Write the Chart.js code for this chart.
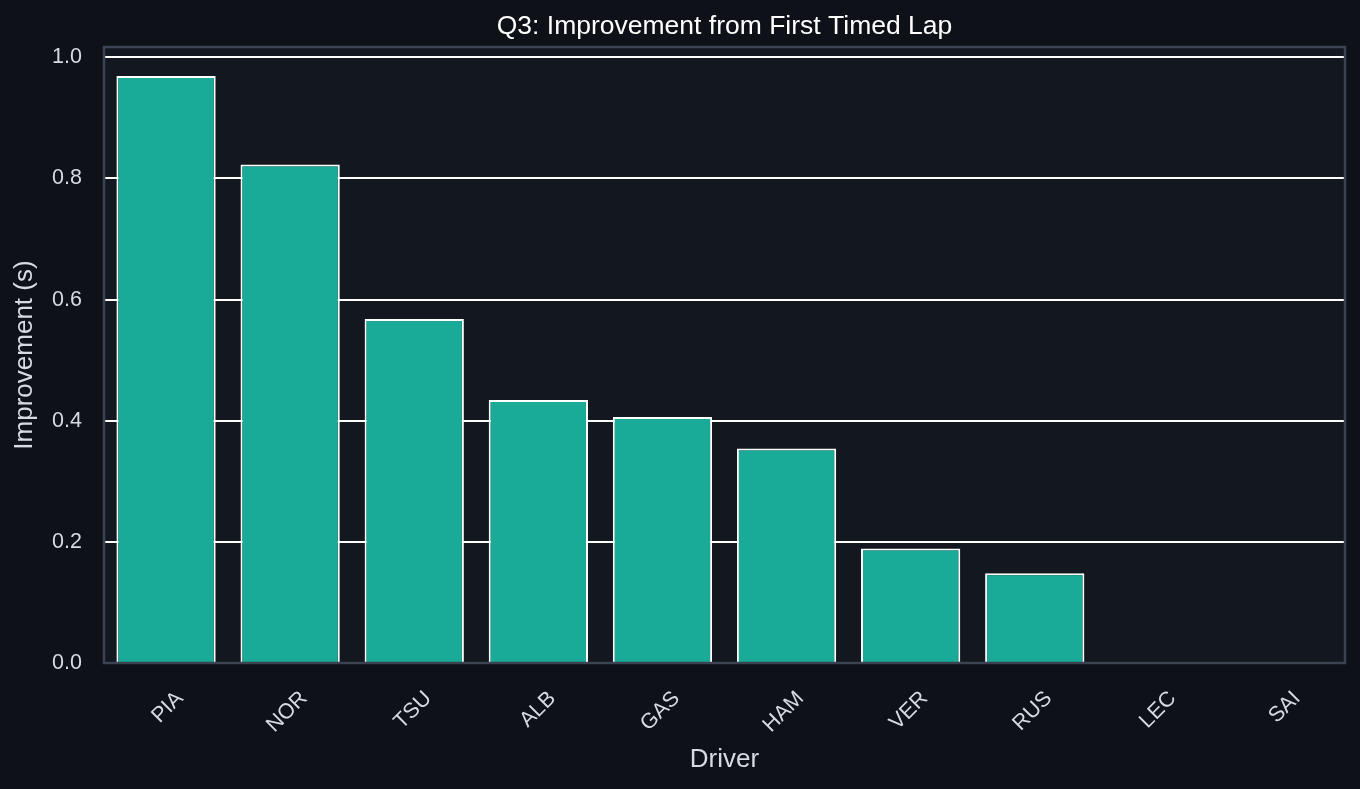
<!DOCTYPE html>
<html>
<head>
<meta charset="utf-8">
<script src="https://cdn.jsdelivr.net/npm/chart.js@4/dist/chart.umd.min.js"></script>
<style>
  html, body { margin: 0; padding: 0; background: #0e1118; }
  #wrap { width: 1360px; height: 789px; }
</style>
</head>
<body>
<div id="wrap"><canvas id="chart"></canvas></div>
<script>
const drivers = ["PIA", "NOR", "TSU", "ALB", "GAS", "HAM", "VER", "RUS", "LEC", "SAI"];
const improvement = [0.969, 0.823, 0.568, 0.434, 0.406, 0.354, 0.189, 0.148, 0, 0];
const yTicks = [0, 0.2, 0.4, 0.6, 0.8, 1.0];
const chartTitle = "Q3: Improvement from First Timed Lap";

const textColor = "#d6dbe3";
const fontFamily = "'Liberation Sans', Arial, sans-serif";

// plot background, frame and a title centred over the axes
const framePlugin = {
    id: "frame",
    beforeDraw(chart) {
        let ctx = chart.ctx;
        let a = chart.chartArea;
        ctx.save();
        ctx.fillStyle = "#0e1118";
        ctx.fillRect(0, 0, chart.width, chart.height);
        ctx.fillStyle = "#131820";
        ctx.fillRect(a.left, a.top, a.right - a.left, a.bottom - a.top);
        ctx.restore();
    },
    afterDatasetsDraw(chart) {
        let ctx = chart.ctx;
        let a = chart.chartArea;
        ctx.save();
        ctx.strokeStyle = "#3b4352";
        ctx.lineWidth = 2.5;
        ctx.strokeRect(a.left, a.top, a.right - a.left, a.bottom - a.top);
        ctx.restore();
    },
    afterDraw(chart) {
        let ctx = chart.ctx;
        let a = chart.chartArea;
        ctx.save();
        ctx.fillStyle = "#ffffff";
        ctx.font = "26.5px " + fontFamily;
        ctx.textAlign = "center";
        ctx.textBaseline = "alphabetic";
        ctx.fillText(chartTitle, (a.left + a.right) / 2, 34);
        ctx.restore();
    }
};

let ctx = document.getElementById("chart").getContext("2d");

new Chart(ctx, {
    type: "bar",
    data: {
        labels: drivers,
        datasets: [{
            label: "Improvement (s)",
            data: improvement,
            backgroundColor: "#1aaa98",
            borderColor: "#ffffff",
            borderWidth: 2,
            barPercentage: 1.0,
            categoryPercentage: 0.8
        }]
    },
    options: {
        responsive: true,
        maintainAspectRatio: false,
        animation: false,
        devicePixelRatio: 1,
        layout: { padding: { left: 0, right: 15, top: 47, bottom: 0 } },
        plugins: {
            legend: { display: false },
            tooltip: { enabled: false },
            title: { display: false }
        },
        scales: {
            x: {
                grid: { display: false, drawTicks: false },
                border: { display: false },
                ticks: {
                    color: textColor,
                    font: { family: fontFamily, size: 21.5 },
                    maxRotation: 45,
                    minRotation: 45,
                    padding: 23,
                    labelOffset: 14
                },
                title: {
                    display: true,
                    text: "Driver",
                    color: textColor,
                    font: { family: fontFamily, size: 26 },
                    padding: { top: 4, bottom: 14 }
                },
                afterFit(scale) { scale.height = 126; }
            },
            y: {
                min: 0,
                max: 1.017,
                grid: { color: "#ffffff", lineWidth: 2, drawTicks: false },
                border: { display: false },
                ticks: {
                    color: textColor,
                    font: { family: fontFamily, size: 21.5 },
                    stepSize: 0.2,
                    includeBounds: false,
                    padding: 22,
                    callback: v => v.toFixed(1)
                },
                afterBuildTicks(scale) {
                    scale.ticks = yTicks.map(v => ({ value: v }));
                },
                title: {
                    display: true,
                    text: "Improvement (s)",
                    color: textColor,
                    font: { family: fontFamily, size: 26 },
                    padding: { top: 9, bottom: 4 }
                },
                afterFit(scale) { scale.width = 104; }
            }
        }
    },
    plugins: [framePlugin]
});
</script>
</body>
</html>
